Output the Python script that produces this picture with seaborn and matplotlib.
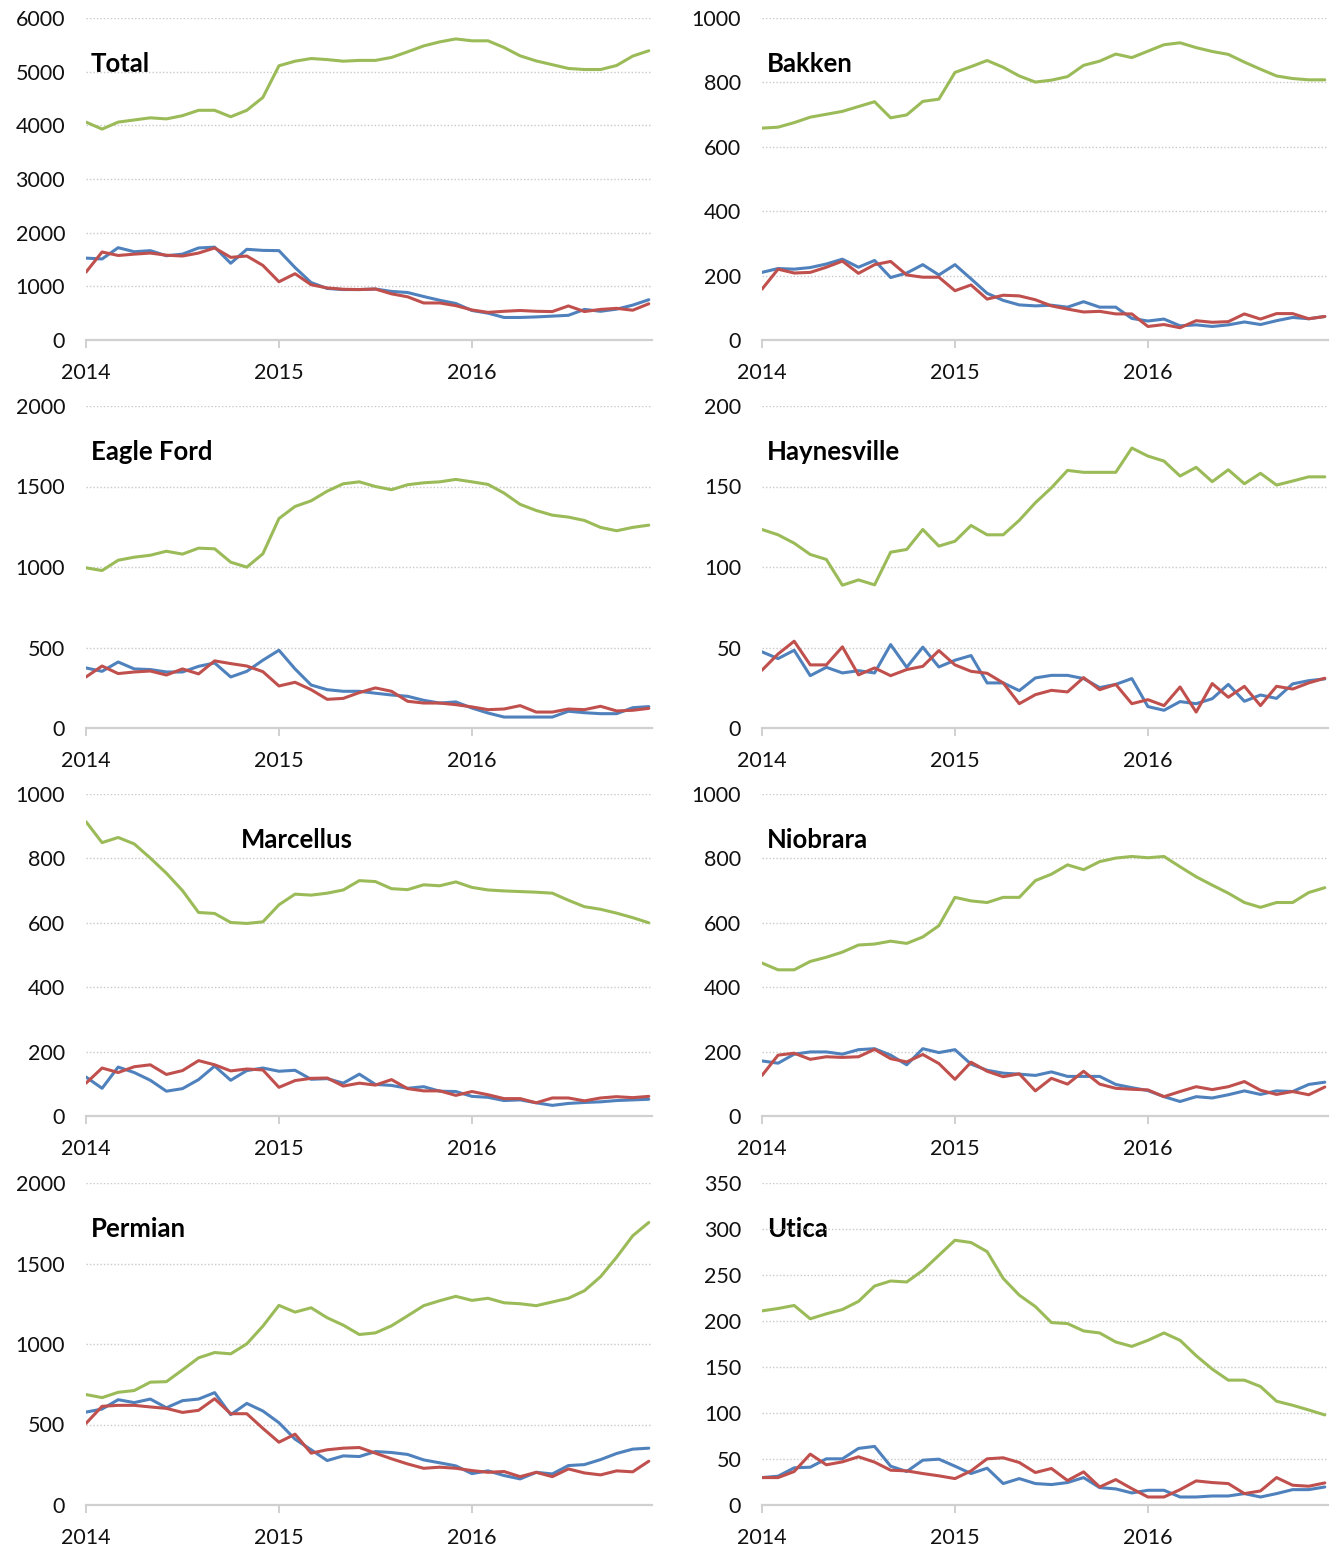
import pandas as pd
import matplotlib
matplotlib.use("Agg")
import matplotlib.pyplot as plt
import seaborn as sns

# monthly points, Jan 2014 .. Dec 2016
months = list(range(36))
year_ticks = [0, 12, 24]
year_labels = ["2014", "2015", "2016"]

# Total
total_green = [4060, 3930, 4060, 4100, 4140, 4120, 4180, 4280, 4280, 4160, 4280, 4520,
               5110, 5195, 5245, 5225, 5195, 5210, 5210, 5265, 5370, 5480, 5555, 5610,
               5575, 5575, 5450, 5295, 5200, 5130, 5060, 5040, 5040, 5115, 5290, 5390]
total_blue = [1526, 1510, 1720, 1645, 1665, 1570, 1600, 1715, 1730, 1430, 1690, 1670,
              1665, 1350, 1070, 960, 940, 940, 950, 905, 885, 810, 740, 680,
              550, 500, 420, 420, 430, 445, 460, 570, 535, 575, 650, 750]
total_red = [1265, 1640, 1575, 1600, 1620, 1580, 1565, 1620, 1715, 1540, 1565, 1390,
             1085, 1235, 1030, 970, 945, 940, 950, 860, 805, 690, 690, 640,
             560, 515, 535, 550, 535, 530, 635, 530, 570, 590, 555, 675]

# Bakken
bakken_green = [658, 661, 675, 692, 701, 710, 725, 740, 690, 699, 741, 748,
                831, 849, 868, 847, 820, 801, 807, 818, 853, 866, 888, 877,
                897, 917, 923, 908, 896, 887, 863, 841, 820, 812, 808, 808]
bakken_blue = [210, 222, 220, 225, 236, 251, 226, 247, 194, 208, 234, 202,
               234, 190, 145, 123, 109, 106, 108, 102, 119, 102, 102, 67,
               59, 65, 44, 47, 42, 47, 56, 48, 60, 70, 66, 73]
bakken_red = [158, 220, 208, 210, 226, 245, 207, 234, 244, 202, 195, 195,
              153, 171, 127, 139, 137, 125, 106, 96, 87, 89, 81, 81,
              42, 48, 38, 60, 55, 57, 81, 65, 82, 82, 66, 73]

# Eagle Ford
eagle_green = [995, 978, 1042, 1061, 1073, 1098, 1080, 1117, 1113, 1030, 999, 1082,
               1301, 1376, 1411, 1471, 1517, 1529, 1500, 1480, 1511, 1523, 1529, 1544,
               1529, 1513, 1459, 1389, 1351, 1322, 1310, 1289, 1246, 1225, 1246, 1260]
eagle_blue = [373, 352, 410, 367, 363, 348, 348, 383, 404, 317, 352, 421,
              483, 367, 267, 238, 228, 228, 216, 205, 197, 172, 155, 162,
              124, 93, 68, 68, 68, 68, 104, 95, 89, 89, 126, 133]
eagle_red = [317, 385, 338, 348, 354, 329, 367, 336, 417, 400, 385, 350,
             261, 284, 238, 178, 184, 220, 249, 228, 166, 155, 155, 145,
             131, 114, 118, 139, 99, 99, 118, 114, 135, 106, 110, 122]

# Haynesville
hay_green = [123.3, 120, 114.8, 107.8, 104.7, 88.7, 92, 88.9, 109.2, 110.9, 123.3, 113,
             116, 125.8, 120, 120, 129, 139.9, 149.2, 160, 158.8, 158.8, 158.8, 173.9,
             168.9, 165.8, 156.5, 161.9, 153, 160.4, 151.7, 158.2, 150.9, 153.4, 156, 156]
hay_blue = [47.3, 43.1, 48.3, 32.5, 37.7, 34.2, 35.6, 34.2, 51.8, 37.7, 50.2, 37.9,
            42.1, 45, 28, 28, 23.2, 31.1, 32.7, 32.7, 30.7, 25.1, 27.1, 30.7,
            13.3, 11, 16.4, 15.1, 18.2, 27.1, 16.6, 20.5, 18.4, 27.4, 29.4, 30.5]
hay_red = [35.9, 46, 53.9, 39.2, 39.2, 50.4, 33, 37.3, 32.5, 36.3, 38.3, 48.1,
           39.2, 35.2, 34, 28, 15.1, 20.7, 23.4, 22.4, 31.3, 23.8, 27.1, 15.1,
           17.6, 13.9, 25.5, 9.9, 27.6, 19.1, 25.9, 13.9, 25.9, 24.2, 28, 30.9]

# Marcellus
marc_green = [914, 849, 865, 845, 801, 754, 700, 632, 629, 601, 598, 603,
              656, 689, 686, 692, 702, 731, 728, 706, 703, 718, 715, 727,
              710, 702, 699, 697, 695, 692, 670, 650, 642, 630, 616, 600]
marc_blue = [121, 86, 152, 135, 111, 77, 85, 113, 155, 111, 141, 149,
             139, 142, 114, 116, 102, 130, 98, 95, 86, 91, 77, 76,
             61, 58, 48, 50, 41, 33, 39, 42, 44, 48, 50, 52]
marc_red = [102, 149, 135, 153, 159, 129, 141, 172, 159, 140, 146, 143,
            89, 110, 117, 118, 93, 102, 96, 113, 85, 78, 78, 64,
            76, 66, 54, 54, 41, 56, 56, 47, 56, 60, 57, 61]

# Niobrara
niob_green = [475, 454, 454, 480, 493, 509, 531, 534, 543, 536, 556, 591,
              679, 668, 663, 679, 679, 731, 751, 780, 765, 790, 801, 806,
              802, 806, 774, 743, 717, 692, 663, 648, 663, 663, 694, 709]
niob_blue = [171, 164, 192, 199, 199, 192, 206, 209, 189, 159, 209, 197,
             206, 161, 142, 133, 130, 126, 137, 123, 123, 123, 98, 88,
             79, 60, 45, 60, 56, 66, 78, 67, 78, 76, 98, 105]
niob_red = [126, 189, 195, 176, 184, 182, 184, 207, 178, 168, 191, 163,
            114, 167, 139, 122, 131, 78, 117, 99, 139, 99, 86, 83,
            81, 60, 76, 91, 82, 91, 107, 80, 67, 76, 66, 90]

# Permian
perm_green = [686, 667, 700, 711, 763, 766, 839, 914, 947, 939, 1001, 1111,
              1240, 1198, 1225, 1163, 1117, 1059, 1069, 1113, 1175, 1238, 1269, 1296,
              1271, 1284, 1256, 1250, 1238, 1261, 1284, 1331, 1418, 1539, 1672, 1755]
perm_blue = [577, 596, 654, 636, 658, 604, 648, 658, 698, 561, 631, 584,
             511, 409, 343, 276, 305, 301, 332, 326, 314, 280, 262, 243,
             195, 212, 183, 162, 203, 193, 245, 251, 282, 320, 347, 353]
perm_red = [507, 613, 619, 619, 609, 600, 575, 588, 660, 567, 567, 476,
            390, 440, 322, 343, 353, 357, 322, 287, 255, 228, 235, 228,
            214, 203, 208, 176, 203, 176, 224, 199, 187, 212, 206, 272]

# Utica
utica_green = [211, 213.6, 216.9, 202.4, 207.8, 212.5, 221.3, 238, 243.5, 242.4, 255, 271.4,
               287.8, 285.3, 275.4, 246.3, 228.1, 215.7, 198.3, 197.2, 189.2, 187, 177.2, 172.4,
               179, 187, 179, 162.3, 147.7, 135.7, 135.7, 128.8, 112.8, 108.4, 103.3, 97.9]
utica_blue = [29.8, 31.3, 40.4, 41.1, 50.2, 50.2, 61.5, 63.7, 42.2, 36.4, 48.7, 49.8,
              42.2, 34.2, 40, 23.3, 28.7, 23.3, 22.2, 24.4, 29.8, 18.9, 17.5, 13.1,
              16, 16, 8.7, 8.7, 9.8, 9.8, 12.4, 8.7, 12.4, 16.7, 16.7, 19.6]
utica_red = [29.8, 29.8, 36.4, 55.3, 43.7, 46.9, 52.4, 46.6, 37.8, 37.1, 34.2, 31.7,
             28.7, 37.1, 50.2, 51.3, 46.2, 35.3, 39.7, 26.6, 36, 19.6, 27.6, 17.8,
             8.7, 8.7, 16.7, 26.2, 24.4, 23.3, 12.4, 15.3, 29.8, 21.5, 20.4, 24]

panels = [
    ("Total", total_green, total_blue, total_red, 6000, 1000),
    ("Bakken", bakken_green, bakken_blue, bakken_red, 1000, 200),
    ("Eagle Ford", eagle_green, eagle_blue, eagle_red, 2000, 500),
    ("Haynesville", hay_green, hay_blue, hay_red, 200, 50),
    ("Marcellus", marc_green, marc_blue, marc_red, 1000, 200),
    ("Niobrara", niob_green, niob_blue, niob_red, 1000, 200),
    ("Permian", perm_green, perm_blue, perm_red, 2000, 500),
    ("Utica", utica_green, utica_blue, utica_red, 350, 50),
]

palette = {"green": "#9BBB59", "blue": "#4F81BD", "red": "#C0504D"}

sns.set_theme(style="white")
plt.rcParams["font.family"] = ["Lato", "DejaVu Sans"]

fig = plt.figure(figsize=(13.37, 15.5), dpi=100)

W, H = 1337, 1550
col_left = [86, 762]
row_bottom = [340, 728, 1116, 1505]
ax_w = 566
ax_h = 322

for i, (name, g, b, r, ymax, step) in enumerate(panels):
    row, col = divmod(i, 2)
    left = col_left[col] / W
    bottom = 1 - row_bottom[row] / H
    ax = fig.add_axes([left, bottom, ax_w / W, ax_h / H])

    df = pd.DataFrame({
        "month": months * 3,
        "value": g + b + r,
        "series": ["green"] * 36 + ["blue"] * 36 + ["red"] * 36,
    })
    sns.lineplot(data=df, x="month", y="value", hue="series", palette=palette,
                 ax=ax, legend=False, linewidth=2.2)

    ax.set_xlim(0, 35.2)
    ax.set_ylim(0, ymax)
    ax.set_yticks(list(range(0, ymax + 1, step)))
    ax.set_xticks(year_ticks)
    ax.set_xticklabels(year_labels)
    ax.set_xlabel("")
    ax.set_ylabel("")

    ax.set_axisbelow(True)
    ax.yaxis.grid(True, color="#c9c9c9", linestyle=(0, (1, 1.5)), linewidth=1.0)
    ax.xaxis.grid(False)
    for s in ["top", "right", "left"]:
        ax.spines[s].set_visible(False)
    ax.spines["bottom"].set_color("#d0d0d0")
    ax.spines["bottom"].set_linewidth(1.6)

    ax.tick_params(axis="y", length=0, pad=15, labelsize=15.5, labelcolor="#111111")
    ax.tick_params(axis="x", bottom=True, length=6, width=1.4, color="#d0d0d0",
                   pad=10.5, labelsize=15.5, labelcolor="#111111")

    tx = 0.009 if name != "Marcellus" else 0.274
    ax.text(tx, 0.857, name, transform=ax.transAxes, fontsize=18.5, fontweight="bold",
            ha="left", va="center", color="black", zorder=0.3)

fig.savefig("out.png", dpi=100)
